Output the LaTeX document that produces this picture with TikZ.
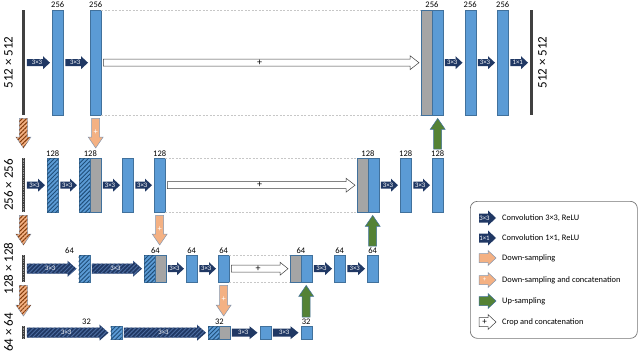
\documentclass[tikz,border=0pt]{standalone}
\usepackage{fontspec}
\setmainfont{Carlito}
\usetikzlibrary{calc,patterns.meta}
\definecolor{barblue}{HTML}{5B9BD5}
\definecolor{barline}{HTML}{41719C}
\definecolor{darkblue}{HTML}{203864}
\definecolor{hatchblue}{HTML}{1F4E79}
\definecolor{stripeblue}{HTML}{4A6A9E}
\definecolor{orng}{HTML}{F4B183}
\definecolor{orngdark}{HTML}{843C0C}
\definecolor{orngline}{HTML}{8497B0}
\definecolor{grn}{HTML}{548235}
\definecolor{grnline}{HTML}{41719C}
\definecolor{gry}{HTML}{A5A5A5}

% horizontal block arrow between two named nodes
\newcommand\harr[7]{%
 \path[#1] let \p1=($(#2.east)+(2pt,0)$), \p2=($(#3.west)+(-2pt,0)$) in
  (\x1,\y1+#4pt) -- (\x2-#6pt,\y1+#4pt) -- (\x2-#6pt,\y1+#5pt) -- (\x2,\y1)
  -- (\x2-#6pt,\y1-#5pt) -- (\x2-#6pt,\y1-#4pt) -- (\x1,\y1-#4pt) -- cycle
  ({0.5*\x1+0.5*\x2-1.5pt},\y1) node[alab] {#7};}
% vertical down arrow
\newcommand\dnarr[4]{%
 \path[#1] let \p1=($(#2.south)+(0,-3pt)$), \p2=($(#3.north)+(0,10pt)$) in
  (\x1-4pt,\y1) -- (\x1-4pt,\y2+11pt) -- (\x1-7.5pt,\y2+11pt) -- (\x1,\y2)
  -- (\x1+7.5pt,\y2+11pt) -- (\x1+4pt,\y2+11pt) -- (\x1+4pt,\y1) -- cycle
  (\x1,{0.55*\y1+0.45*\y2}) node[plab] {#4};}
% vertical up arrow
\newcommand\uparr[3]{%
 \path[#1] let \p1=($(#2.north)+(0,9pt)$), \p2=($(#3.south)+(0,-3pt)$) in
  (\x1-4pt,\y1) -- (\x1-4pt,\y2-11pt) -- (\x1-7.5pt,\y2-11pt) -- (\x1,\y2)
  -- (\x1+7.5pt,\y2-11pt) -- (\x1+4pt,\y2-11pt) -- (\x1+4pt,\y1) -- cycle;}
% legend icon
\newcommand\iconarr[3]{%
 \path[#1] (479,{#2-4.5}) -- (488,{#2-4.5}) -- (488,{#2-7.5}) -- (496,#2)
  -- (488,{#2+7.5}) -- (488,{#2+4.5}) -- (479,{#2+4.5}) -- cycle;
 \node[alab] at (484.5,#2) {#3};}

\tikzset{
 bar/.style={draw=barline, fill=barblue, line width=0.4pt, inner sep=0,
   minimum width=11pt, anchor=north west},
 hbar/.style={bar, postaction={pattern={Lines[angle=45,distance=3pt,line width=0.9pt]}, pattern color=hatchblue}},
 gbar/.style={bar, fill=gry, minimum width=10.5pt},
 inline/.style={fill=black!75, inner sep=0, minimum width=2.5pt, anchor=north west},
 num/.style={font=\fontsize{8.5}{9}\selectfont, inner sep=0, anchor=south},
 side/.style={font=\fontsize{13}{13}\selectfont, rotate=90, inner sep=0},
 conv/.style={fill=darkblue},
 convh/.style={fill=darkblue, postaction={pattern={Lines[angle=45,distance=3pt,line width=1pt]}, pattern color=stripeblue}},
 crop/.style={draw=black!75, fill=white, line width=0.5pt},
 down/.style={fill=orng, draw=orngline, line width=0.5pt},
 downh/.style={down, postaction={pattern={Lines[angle=45,distance=3pt,line width=1pt]}, pattern color=orngdark}},
 up/.style={fill=grn, draw=grnline, line width=0.5pt},
 alab/.style={text=white, font=\fontsize{6.8}{7}\selectfont, inner sep=0},
 plab/.style={text=white, font=\fontsize{8.5}{8}\selectfont, inner sep=0},
 clab/.style={text=black, font=\fontsize{10}{10}\selectfont\bfseries},
 cropl/.style={draw=black!22, line width=0.6pt, dash pattern=on 2pt off 1.5pt},
 legtext/.style={font=\fontsize{8.4}{9}\selectfont, anchor=west, inner sep=0},
 legbox/.style={draw=black!55, line width=0.7pt, rounded corners=7pt, anchor=north west,
   minimum width=167pt, minimum height=137pt, inner sep=0},
}

\begin{document}
\begin{tikzpicture}[x=1pt,y=-1pt]
\useasboundingbox (0,0) rectangle (640,353);

% ---------- level 1 ----------
\node[inline, minimum height=105pt] (in1) at (22,10) {};
\node[bar, minimum height=105pt] (b1a) at (52,10) {};
\node[bar, minimum height=105pt] (b1b) at (90,10) {};
\node[gbar, minimum height=105pt] (g1) at (421,10) {};
\node[bar, minimum height=105pt] (b1c) at (431.5,10) {};
\node[bar, minimum height=105pt] (b1d) at (464.5,10) {};
\node[bar, minimum height=105pt] (b1e) at (497,10) {};
\node[inline, minimum height=105pt] (out1) at (530,10) {};
\draw[cropl] (b1b.north east) -- (g1.north west) (b1b.south east) -- (g1.south west);

% ---------- level 2 ----------
\node[inline, minimum height=54pt] (in2) at (22,158) {};
\node[hbar, minimum height=54pt] (h2a) at (47,158) {};
\node[hbar, minimum height=54pt] (h2b) at (79,158) {};
\node[gbar, minimum height=54pt] (g2a) at (90,158) {};
\node[bar, minimum height=54pt] (b2a) at (122,158) {};
\node[bar, minimum height=54pt] (b2b) at (154,158) {};
\node[gbar, minimum height=54pt] (g2b) at (357,158) {};
\node[bar, minimum height=54pt] (b2c) at (367.5,158) {};
\node[bar, minimum height=54pt] (b2d) at (400,158) {};
\node[bar, minimum height=54pt] (b2e) at (432,158) {};
\draw[cropl] (b2b.north east) -- (g2b.north west) (b2b.south east) -- (g2b.south west);

% ---------- level 3 ----------
\node[inline, minimum height=27pt] (in3) at (22,255) {};
\node[hbar, minimum height=27pt] (h3a) at (78.5,255) {};
\node[hbar, minimum height=27pt] (h3b) at (144,255) {};
\node[gbar, minimum height=27pt] (g3a) at (155,255) {};
\node[bar, minimum height=27pt] (b3a) at (186,255) {};
\node[bar, minimum height=27pt] (b3b) at (218,255) {};
\node[gbar, minimum height=27pt] (g3b) at (290,255) {};
\node[bar, minimum height=27pt] (b3c) at (300.5,255) {};
\node[bar, minimum height=27pt] (b3d) at (334,255) {};
\node[bar, minimum height=27pt] (b3e) at (367,255) {};
\draw[cropl] (b3b.north east) -- (g3b.north west) (b3b.south east) -- (g3b.south west);

% ---------- level 4 ----------
\node[inline, minimum height=13pt] (in4) at (22,326) {};
\node[hbar, minimum height=13pt] (h4a) at (110.5,326) {};
\node[hbar, minimum height=13pt] (h4b) at (208,326) {};
\node[gbar, minimum height=13pt] (g4a) at (219,326) {};
\node[bar, minimum height=13pt] (b4a) at (259.5,326) {};
\node[bar, minimum height=13pt] (b4b) at (300.5,326) {};

% dashed look of the input lines
\foreach \n in {in2,in3,in4}
  \draw[black!40, line width=1pt, dash pattern=on 1.2pt off 1.2pt] (\n.north) -- (\n.south);

% ---------- side labels ----------
\node[side] (s1) at (8.5,62.5) {512 × 512};
\node[side] (s1r) at (542.5,62.5) {512 × 512};
\node[side] (s2) at (8.5,185) {256 × 256};
\node[side] (s3) at (8.5,268.5) {128 × 128};
\node[side] (s4) at (8.5,332.5) {64 × 64};

% ---------- channel numbers ----------
\foreach \p in {b1a.north,b1b.north,g1.north east,b1d.north,b1e.north}
  \node[num] at ($(\p)+(0,2pt)$) {256};
\foreach \p in {h2a.north,h2b.north east,b2b.north,g2b.north east,b2d.north,b2e.north}
  \node[num] at ($(\p)+(0,1.5pt)$) {128};
\foreach \p in {h3b.north east,b3a.north,b3b.north,g3b.north east,b3d.north,b3e.north}
  \node[num] at ($(\p)+(0,1.5pt)$) {64};
\node[num] (n3a) at (69.5,254) {64};
\foreach \p in {h4b.north east,b4b.north}
  \node[num] at ($(\p)+(0,1.5pt)$) {32};
\node[num] (n4a) at (86.5,325) {32};

% ---------- horizontal arrows ----------
\harr{conv}{in1}{b1a}{3.5}{6.5}{7}{3×3}
\harr{conv}{b1a}{b1b}{3.5}{6.5}{7}{3×3}
\harr{crop}{b1b}{g1}{3.5}{7}{9}{\textcolor{black}{\fontsize{10}{10}\selectfont +}}
\harr{conv}{b1c}{b1d}{3.5}{6.5}{7}{3×3}
\harr{conv}{b1d}{b1e}{3.5}{6.5}{7}{3×3}
\harr{conv}{b1e}{out1}{3.5}{6.5}{7}{1×1}

\harr{conv}{in2}{h2a}{3.5}{6.5}{7}{3×3}
\harr{conv}{h2a}{h2b}{3.5}{6.5}{7}{3×3}
\harr{conv}{g2a}{b2a}{3.5}{6.5}{7}{3×3}
\harr{conv}{b2a}{b2b}{3.5}{6.5}{7}{3×3}
\harr{crop}{b2b}{g2b}{3.5}{7}{9}{\textcolor{black}{\fontsize{10}{10}\selectfont +}}
\harr{conv}{b2c}{b2d}{3.5}{6.5}{7}{3×3}
\harr{conv}{b2d}{b2e}{3.5}{6.5}{7}{3×3}

\harr{convh}{in3}{h3a}{5}{8}{9}{3×3}
\harr{convh}{h3a}{h3b}{5}{8}{9}{3×3}
\harr{conv}{g3a}{b3a}{3.5}{6.5}{7}{3×3}
\harr{conv}{b3a}{b3b}{3.5}{6.5}{7}{3×3}
\harr{crop}{b3b}{g3b}{3.5}{6.5}{8}{\textcolor{black}{\fontsize{10}{10}\selectfont +}}
\harr{conv}{b3c}{b3d}{3.5}{6.5}{7}{3×3}
\harr{conv}{b3d}{b3e}{3.5}{6.5}{7}{3×3}

\harr{convh}{in4}{h4a}{5}{8}{9}{3×3}
\harr{convh}{h4a}{h4b}{5}{8}{9}{3×3}
\harr{conv}{g4a}{b4a}{4}{6.5}{8}{3×3}
\harr{conv}{b4a}{b4b}{4}{6.5}{8}{3×3}

% ---------- vertical arrows ----------
\dnarr{downh}{in1}{in2}{}
\dnarr{downh}{in2}{in3}{}
\dnarr{downh}{in3}{in4}{}
\dnarr{down}{b1b}{h2b}{+}
\dnarr{down}{b2b}{h3b}{+}
\dnarr{down}{b3b}{h4b}{+}
\uparr{up}{b2e}{b1c}
\uparr{up}{b3e}{b2c}
\uparr{up}{b4b}{b3c}

% ---------- legend ----------
\node[legbox] (legend) at (470,201) {};
\iconarr{conv}{218}{3×3}
\node[legtext] (l1) at (502,218) {Convolution 3×3, ReLU};
\iconarr{conv}{238}{1×1}
\node[legtext] (l2) at (502,238) {Convolution 1×1, ReLU};
\iconarr{down}{258}{}
\node[legtext] (l3) at (502,258) {Down-sampling};
\iconarr{down}{280}{+}
\node[legtext] (l4) at (502,280) {Down-sampling and concatenation};
\iconarr{up}{301}{}
\node[legtext] (l5) at (502,301) {Up-sampling};
\iconarr{crop}{322}{\textcolor{black}{\fontsize{9}{9}\selectfont +}}
\node[legtext] (l6) at (502,322) {Crop and concatenation};
\end{tikzpicture}
\end{document}
